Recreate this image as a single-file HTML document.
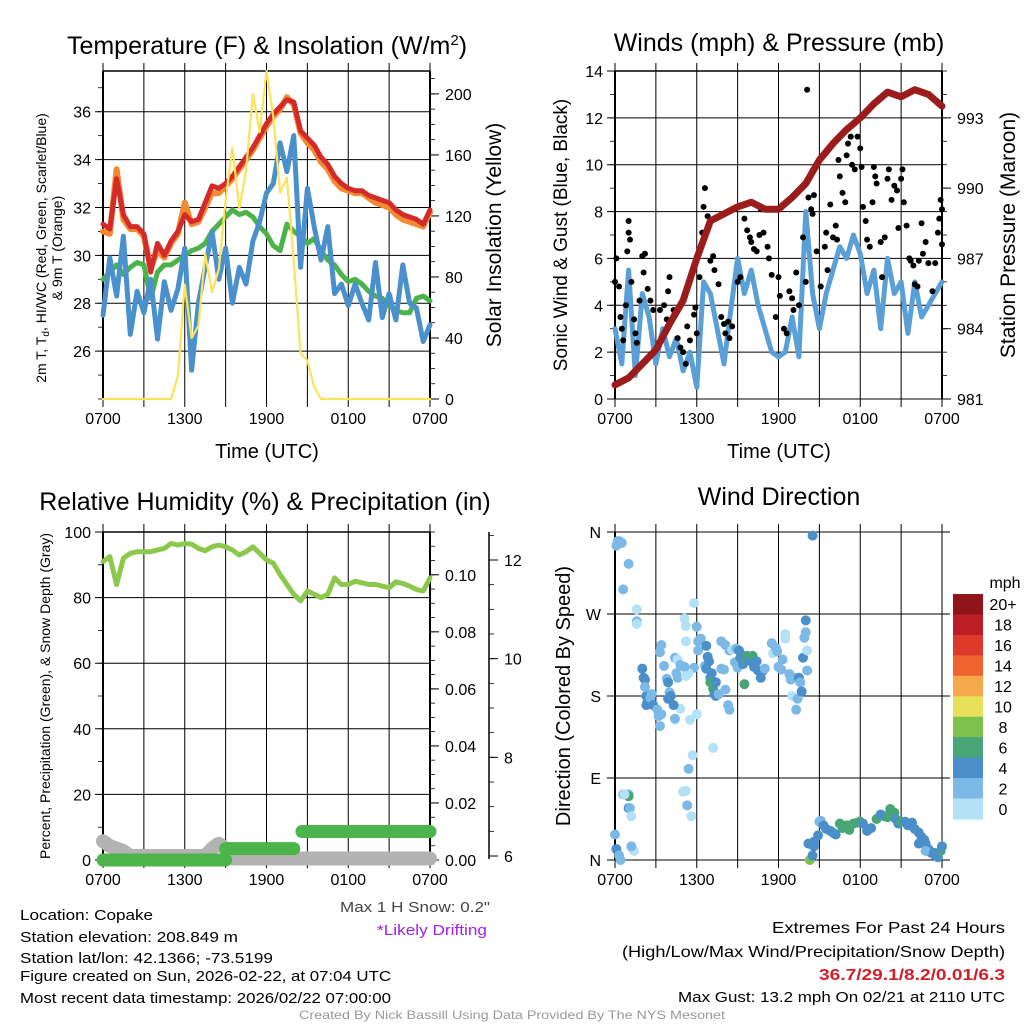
<!DOCTYPE html>
<html><head><meta charset="utf-8"><style>
html,body{margin:0;padding:0;background:#fff;}
svg{display:block;font-family:"Liberation Sans",sans-serif;}
</style></head><body>
<svg id="chart" width="1024" height="1024" viewBox="0 0 1024 1024" xmlns="http://www.w3.org/2000/svg">
<rect x="0" y="0" width="1024" height="1024" fill="#fff"/>
<text x="267" y="54" font-size="25" text-anchor="middle">Temperature (F) &amp; Insolation (W/m<tspan dy="-9" font-size="15">2</tspan><tspan dy="9">)</tspan></text>
<text x="779" y="51" font-size="25" text-anchor="middle">Winds (mph) &amp; Pressure (mb)</text>
<text x="265" y="510" font-size="25" text-anchor="middle">Relative Humidity (%) &amp; Precipitation (in)</text>
<text x="779" y="505" font-size="25" text-anchor="middle">Wind Direction</text>
<text x="267" y="458" font-size="20" text-anchor="middle">Time (UTC)</text>
<text x="779" y="458" font-size="20" text-anchor="middle">Time (UTC)</text>
<text transform="translate(46,248) rotate(-90)" font-size="14" text-anchor="middle"><tspan x="0" y="0">2m T, T<tspan font-size="10" dy="3">d</tspan><tspan dy="-3">, HI/WC (Red, Green, Scarlet/Blue)</tspan></tspan><tspan x="0" y="16">&amp; 9m T (Orange)</tspan></text>
<text transform="translate(501,235) rotate(-90)" font-size="21" text-anchor="middle">Solar Insolation (Yellow)</text>
<text transform="translate(567,235) rotate(-90)" font-size="19" text-anchor="middle">Sonic Wind &amp; Gust (Blue, Black)</text>
<text transform="translate(1015,235) rotate(-90)" font-size="21" text-anchor="middle">Station Pressure (Maroon)</text>
<text transform="translate(50,696) rotate(-90)" font-size="14" text-anchor="middle">Percent, Precipitation (Green), &amp; Snow Depth (Gray)</text>
<text transform="translate(570,696) rotate(-90)" font-size="20" text-anchor="middle">Direction (Colored By Speed)</text>
<text x="415" y="912" font-size="15" fill="#444" text-anchor="middle" textLength="150" lengthAdjust="spacingAndGlyphs">Max 1 H Snow: 0.2"</text>
<text x="432" y="935" font-size="15" fill="#a020f0" text-anchor="middle" textLength="110" lengthAdjust="spacingAndGlyphs">*Likely Drifting</text>
<g font-size="15">
<text x="20" y="920" textLength="133" lengthAdjust="spacingAndGlyphs">Location: Copake</text>
<text x="20" y="942" textLength="218" lengthAdjust="spacingAndGlyphs">Station elevation: 208.849 m</text>
<text x="20" y="963" textLength="253" lengthAdjust="spacingAndGlyphs">Station lat/lon: 42.1366; -73.5199</text>
<text x="20" y="981" textLength="371" lengthAdjust="spacingAndGlyphs">Figure created on Sun, 2026-02-22, at 07:04 UTC</text>
<text x="20" y="1003" textLength="371" lengthAdjust="spacingAndGlyphs">Most recent data timestamp: 2026/02/22 07:00:00</text>
</g>
<g font-size="16" text-anchor="end">
<text x="1005" y="933" textLength="233" lengthAdjust="spacingAndGlyphs">Extremes For Past 24 Hours</text>
<text x="1005" y="957" textLength="383" lengthAdjust="spacingAndGlyphs">(High/Low/Max Wind/Precipitation/Snow Depth)</text>
<text x="1005" y="980" fill="#d0202a" font-weight="bold" textLength="186" lengthAdjust="spacingAndGlyphs">36.7/29.1/8.2/0.01/6.3</text>
<text x="1005" y="1002" font-size="15" textLength="327" lengthAdjust="spacingAndGlyphs">Max Gust: 13.2 mph On 02/21 at 2110 UTC</text>
</g>
<text x="512" y="1019" font-size="12" fill="#999" text-anchor="middle" textLength="426" lengthAdjust="spacingAndGlyphs">Created By Nick Bassill Using Data Provided By The NYS Mesonet</text>
</svg>
<script>
// ---- data (half-hourly from 0700 UTC) ----
const timeLabels = ["0700","1300","1900","0100","0700"];
const temp2m = [31.3,31.1,33.2,31.7,31.2,31.2,30.9,29.3,30.5,30.0,30.6,31.0,31.7,31.4,31.5,32.2,32.9,32.8,33.0,33.3,33.7,34.1,34.5,35.0,35.5,35.9,36.2,36.5,36.4,35.2,34.9,34.6,34.1,33.8,33.3,33.0,32.8,32.7,32.7,32.5,32.4,32.3,32.2,31.9,31.7,31.6,31.5,31.3,31.9];
const temp9m = [31.0,30.9,33.6,31.5,31.1,31.1,30.8,29.5,30.2,29.9,30.5,30.9,32.2,31.3,31.4,32.0,32.6,32.6,32.9,33.2,33.6,34.0,34.4,34.9,35.4,35.8,36.1,36.6,36.3,35.1,34.7,34.4,33.9,33.6,33.1,32.8,32.7,32.6,32.6,32.4,32.2,32.1,32.0,31.7,31.5,31.4,31.3,31.2,31.8];
const dewpoint = [29.0,29.3,29.6,29.2,29.5,29.7,29.6,28.2,29.3,29.6,29.6,29.8,30.0,30.2,30.3,30.5,31.0,31.3,31.6,31.9,31.7,31.8,31.6,31.2,30.9,30.4,30.2,31.3,31.0,30.8,30.5,30.7,30.2,29.8,29.6,29.2,28.9,29.0,28.8,28.5,28.3,28.2,27.9,27.7,27.6,27.6,28.2,28.3,28.1];
const windChill = [27.5,29.9,28.3,30.8,26.7,28.5,27.6,29.0,26.5,28.9,27.7,28.6,30.3,25.2,28.0,29.5,31.0,29.0,30.3,28.0,29.5,28.8,30.6,31.4,32.6,33.0,34.7,33.5,35.0,29.5,32.8,31.2,29.8,31.2,28.4,28.8,27.9,28.8,28.0,27.3,29.7,27.4,28.4,27.3,29.6,28.0,27.8,26.4,27.1];
const solar = [0,0,0,0,0,0,0,0,0,0,0,15,75,40,48,95,70,85,130,165,125,150,200,175,215,185,135,145,90,30,25,8,0,0,0,0,0,0,0,0,0,0,0,0,0,0,0,0,0];
const pressure = [981.6,981.9,982.5,983.1,984.2,985.2,987.0,988.6,988.9,989.2,989.4,989.1,989.1,989.6,990.2,991.2,991.9,992.5,993.0,993.6,994.1,993.9,994.2,994.0,993.5]; // hourly
const sonicWind = [3.0,1.5,5.5,1.0,4.5,3.5,1.5,3.0,1.8,2.6,1.2,2.0,0.5,5.0,4.5,3.0,1.5,3.8,6.0,4.5,5.5,4.0,3.0,2.0,1.8,2.0,3.5,1.8,8.0,4.5,3.0,4.5,5.5,6.5,6.0,7.0,6.2,4.5,5.5,3.0,6.0,4.5,5.0,2.8,5.0,3.5,4.0,4.5,5.0];
const gustTimes = [0,0.1,0.3,0.4,0.5,0.6,0.8,0.9,1.0,1.0,1.1,1.2,1.4,1.5,1.6,1.8,2.0,2.1,2.2,2.4,2.6,2.8,3.3,3.6,3.8,3.9,4.0,4.3,4.6,4.8,5.0,5.2,5.3,5.5,5.8,5.9,6.0,6.2,6.4,6.5,6.6,6.8,7.0,7.2,7.3,7.6,7.8,8.0,8.1,8.3,8.4,8.6,9.0,9.2,9.5,9.7,9.9,10.0,10.2,10.4,10.6,10.7,10.9,11.2,11.3,11.5,11.8,12.0,12.1,12.4,12.6,12.8,13.0,13.1,13.3,13.5,13.8,14.0,14.1,14.2,14.4,14.5,14.6,14.8,15.1,15.4,15.5,15.6,15.8,16.0,16.2,16.3,16.4,16.5,16.7,16.9,17.0,17.1,17.3,17.4,17.6,17.8,18.0,18.1,18.2,18.4,18.5,18.7,18.9,19.0,19.1,19.2,19.5,19.6,19.8,20.0,20.1,20.3,20.5,20.7,20.8,21.0,21.1,21.2,21.4,21.6,21.7,21.9,22.0,22.2,22.3,22.5,22.6,22.8,23.0,23.3,23.5,23.7,23.8,23.9,24,24];
const gustValues = [5,6,4.8,3.5,3,2.5,4,6.3,7.1,7.6,6.8,5,3.4,2.8,2.4,4.2,6.1,5.4,6.2,4.7,4.2,3.8,3.8,4.0,3.4,4.6,5.2,3.8,2.6,2.2,2.0,1.5,3.1,2.5,3.6,3.9,2.8,5.2,7.1,8.2,9.0,7.8,5.9,6.1,5.5,4.9,3.5,3.2,2.8,3.3,2.6,3.1,5.0,5.2,7.7,7.2,6.9,6.7,6.4,6.3,7.0,8.1,7.1,6.5,6.0,5.3,3.5,5.2,4.4,3.0,2.8,4.6,4.3,3.8,5.4,4.0,6.9,5.0,13.2,8.6,8.1,7.9,8.7,6.3,4.8,6.5,7.1,5.5,8.3,6.9,7.4,6.8,10.2,9.5,8.8,8.4,10.4,10.9,11.2,10.0,9.8,11.2,10.7,9.9,8.2,7.6,6.8,6.5,8.4,9.9,9.5,9.2,6.7,5.2,6.9,9.4,9.8,8.5,9.1,8.9,7.3,9.4,9.8,8.4,7.4,6.0,5.9,5.7,4.9,4.8,5.9,7.5,6.2,6.7,5.8,4.6,5.8,7.1,7.7,8.5,8.1,6.6];
const humidity = [91,92.5,84,92,93.5,94,94,94,94.5,95,96.5,96,96.5,96.3,95,94.3,95.5,96,95.5,94.5,93,94,95.5,93.5,91.5,90.5,87,84,81,79,82,81,80,81,86,84,84,85,84.5,84,84,83.5,83,84.8,84.3,83.5,82.5,82,86];
const precipStart = [0,9.0,14.6];
const precipEnd = [9.0,14.0,24];
const precipValues = [0,0.004,0.01];
const snowDepth = [6.3,6.2,6.15,6.1,6.0,6.0,6.0,6.0,6.0,6.0,6.0,6.0,6.0,6.0,6.0,6.0,6.15,6.25,6.15,5.95,5.95,5.95,5.95,5.95,5.95,5.95,5.95,5.95,5.95,5.95,5.95,5.95,5.95,5.95,5.95,5.95,5.95,5.95,5.95,5.95,5.95,5.95,5.95,5.95,5.95,5.95,5.95,5.95,5.95];
const dirTimes = [0.2,0.3,0.1,0.5,1.0,0.6,1.6,1.6,1.6,5.1,5.2,5.8,5.2,5.8,5.4,6.1,6.0,4.8,5.5,7.2,5.7,5.4,5.3,5.2,5.0,5.6,1.0,1.0,1.0,1.1,0.6,0.7,1.2,1.4,1.2,0.0,0.1,0.3,0.4,
 2.0,2.1,2.2,2.3,2.2,2.3,2.4,2.6,2.7,2.8,3.1,3.2,3.3,3.4,3.3,3.4,3.6,3.8,3.9,4.0,3.9,4.1,4.4,4.5,4.6,4.3,4.4,4.6,4.8,5.1,5.2,6.0,6.3,6.1,6.7,6.8,6.6,6.7,6.9,7.0,7.1,7.0,7.2,7.3,7.4,7.6,7.4,7.8,7.8,8.0,8.1,8.3,8.4,8.1,8.4,8.6,8.8,8.9,9.0,9.1,9.2,9.3,9.4,9.5,9.6,9.7,9.8,10.0,10.1,10.2,10.4,10.5,10.7,10.8,11.0,11.5,11.6,11.8,11.9,12.0,12.2,12.3,12.5,12.5,12.8,12.9,13.0,13.1,13.4,13.3,13.5,13.6,13.7,13.8,13.9,14.0,14.1,14.1,14.0,14.5,
 14.3,14.5,14.6,14.2,14.6,14.9,15.0,15.1,15.3,15.5,15.8,16.0,16.2,16.5,16.7,17.0,17.2,17.5,17.8,18.0,18.2,18.5,18.8,19.2,19.5,19.8,20.0,20.2,20.5,20.6,20.8,21.0,21.3,21.5,21.8,22.0,22.3,22.5,22.7,22.8,23.0,23.2,23.5,23.7,23.9,24,22.8,23.4,22.3];
const dirDegrees = [350,350,345,348,325,297,275,262,259,265,257,282,240,211,205,230,160,166,154,123,115,100,60,76,75,48,72,70,57,57,72,72,48,10,15,28,12,5,0,
 210,200,198,180,190,170,175,178,182,170,165,158,147,160,228,236,213,199,195,184,177,180,222,205,200,170,155,220,214,212,202,256,243,240,235,223,213,210,218,200,205,195,188,182,180,182,195,240,210,209,187,170,165,236,230,231,217,232,211,230,222,225,215,193,220,224,219,223,224,212,218,208,200,207,210,238,227,233,229,212,209,220,248,243,204,198,180,200,177,165,200,195,185,222,244,250,230,208,263,356,
 0,5,15,18,20,27,42,43,38,34,32,30,28,40,35,38,33,40,41,42,40,32,35,45,50,48,47,56,52,45,40,42,42,38,41,34,30,25,22,18,12,8,5,3,10,15,10,8,18];
const dirSpeeds = [2,2,2,2,2,2,0,2,0,0,0,0,0,2,0,2,0,0,0,0,0,2,2,0,0,0,2,6,4,2,2,0,0,0,2,2,4,2,2,
 4,4,4,4,2,4,4,2,2,4,2,2,2,2,2,2,2,2,4,2,4,4,2,2,2,4,2,0,2,2,0,2,2,2,4,4,2,4,4,4,4,6,6,4,4,2,4,2,2,2,2,2,2,2,2,0,2,2,2,4,4,4,4,6,6,6,4,4,6,4,4,4,4,4,2,2,0,2,2,2,2,2,0,0,2,2,0,2,2,2,4,2,4,4,2,2,0,2,4,4,
 8,4,4,4,4,4,2,2,4,4,4,4,4,6,6,6,6,6,6,6,4,4,4,6,4,4,6,6,6,4,4,6,4,4,4,4,4,4,4,4,4,4,4,4,6,4,2,4,4];
const speedLevels = ["0","2","4","6","8","10","12","14","16","18","20+"];
const speedColors = ["#b3e2f7","#7db9e6","#4a8fc9","#48a676","#7cc14b","#e6e05a","#f6a84a","#ef632e","#dd3a2b","#bb1e27","#8f1519"];
const tempTicks = [26,28,30,32,34,36];
const solarTicks = [0,40,80,120,160,200];
const windTicks = [0,2,4,6,8,10,12,14];
const pressureTicks = [981,984,987,990,993];
const rhTicks = [0,20,40,60,80,100];
const precipTicks = ["0.00","0.02","0.04","0.06","0.08","0.10"];
const snowTicks = [6,8,10,12];
const dirTicks = ["N","E","S","W","N"];

const NS='http://www.w3.org/2000/svg';
const svg=document.getElementById('chart');
function mk(tag,attrs,parent){const e=document.createElementNS(NS,tag);for(const k in attrs)e.setAttribute(k,attrs[k]);(parent||svg).appendChild(e);return e;}
function tx(t,p){return p.x0+t*(p.x1-p.x0)/24;}
function linear(d0,d1,r0,r1){return v=>r0+(v-d0)*(r1-r0)/(d1-d0);}
function pathOf(xs,ys){return xs.map((x,i)=>(i?'L':'M')+x.toFixed(1)+','+ys[i].toFixed(1)).join('');}

const TL={x0:103,x1:430,y0:71,y1:399,name:'temperature'};
const TR={x0:615,x1:942,y0:71,y1:399,name:'wind'};
const BL={x0:103,x1:430,y0:532,y1:860,name:'humidity'};
const BR={x0:615,x1:942,y0:532,y1:860,name:'direction'};

const yTemp=linear(24,37.7,399,71);
const ySolar=linear(0,215,399,71);
const yWind=linear(0,14,399,71);
const yPres=linear(981,995,399,71);
const yRH=linear(0,100,860,532);
const yPrecip=linear(0,0.115,860,532);
const ySnow=linear(6,12,856,560);
const yDir=linear(0,360,860,532);

function frame(p){
  const g=mk('g',{});
  
  
  for(let h=0;h<=24;h+=3){
    const x=tx(h,p);
    const l=mk('line',{x1:x,x2:x,y1:p.y0-8,y2:p.y1+8,stroke:'#000','stroke-width':1},g);
    
    
  }
  timeLabels.forEach((s,i)=>{
    const t=mk('text',{x:tx(i*6,p),y:p.y1+25,'font-size':16,'text-anchor':'middle'},g);
    t.textContent=s;
    
    
  });
  const r=mk('line',{x1:p.x0,x2:p.x0,y1:p.y0,y2:p.y1,stroke:'#000','stroke-width':2},g);
  
  
  const r2=mk('line',{x1:p.x1,x2:p.x1,y1:p.y0,y2:p.y1,stroke:'#000','stroke-width':2},g);
  
  
  const r3=mk('line',{x1:p.x0,x2:p.x1,y1:p.y0,y2:p.y0,stroke:'#000','stroke-width':1.5},g);
  
  
  return g;
}
function leftTicks(p,vals,yf,labels,minorStep,minorFrom,minorTo,fs){
  const g=mk('g',{});
  
  
  for(let v=minorFrom;v<=minorTo+1e-9;v+=minorStep){
    const y=yf(v); if(y<p.y0-1||y>p.y1+1)continue;
    const m=mk('line',{x1:p.x0-5,x2:p.x0,y1:y,y2:y,stroke:'#000','stroke-width':0.8},g);
    
    
  }
  vals.forEach((v,i)=>{
    const y=yf(v);
    const l=mk('line',{x1:p.x0-8,x2:p.x1,y1:y,y2:y,stroke:'#000','stroke-width':1},g);
    
    
    const t=mk('text',{x:p.x0-12,y:y+6,'font-size':fs||16,'text-anchor':'end'},g);
    t.textContent=labels?labels[i]:v;
    
    
  });
}
function rightTicks(p,vals,yf,labels,minorStep,minorFrom,minorTo,xAxis){
  const ax=xAxis||p.x1;
  const g=mk('g',{});
  
  
  for(let v=minorFrom;v<=minorTo+1e-9;v+=minorStep){
    const y=yf(v); if(y<p.y0-1||y>p.y1+1)continue;
    const m=mk('line',{x1:ax,x2:ax+5,y1:y,y2:y,stroke:'#000','stroke-width':0.8},g);
    
    
  }
  vals.forEach((v,i)=>{
    const y=yf(v);
    const l=mk('line',{x1:ax,x2:ax+9,y1:y,y2:y,stroke:'#000','stroke-width':1},g);
    
    
    const t=mk('text',{x:ax+15,y:y+6,'font-size':16},g);
    t.textContent=labels?labels[i]:v;
    
    
  });
}
function series(vals,yf,p,step,color,w,name){
  const xs=vals.map((v,i)=>tx(i*step,p));
  const ys=vals.map(v=>yf(v));
  const e=mk('path',{d:pathOf(xs,ys),fill:'none',stroke:color,'stroke-width':w,'stroke-linejoin':'round','stroke-linecap':'round'});
  
  
  return e;
}

// ---- Temperature panel ----
frame(TL);
leftTicks(TL,tempTicks,yTemp,null,1,24,37);
rightTicks(TL,solarTicks,ySolar,null,10,0,210);
series(temp9m,yTemp,TL,0.5,'#f28a30',6,'temp-9m-line');
series(temp2m,yTemp,TL,0.5,'#d42a2a',5,'temp-2m-line');
series(dewpoint,yTemp,TL,0.5,'#4cb34a',5,'dewpoint-line');
series(windChill,yTemp,TL,0.5,'#4a90cc',5,'windchill-line');
series(solar,ySolar,TL,0.5,'#fce35a',2.2,'solar-line');

// ---- Wind panel ----
frame(TR);
leftTicks(TR,windTicks,yWind,null,1,0,14);
rightTicks(TR,pressureTicks,yPres,null,1,981,995);
series(sonicWind,yWind,TR,0.5,'#5a9fd6',5,'sonic-wind-line');
gustTimes.forEach((t,i)=>{
  const c=mk('circle',{cx:tx(t,TR),cy:yWind(gustValues[i]),r:3,fill:'#000'});
  
  
});
series(pressure,yPres,TR,1,'#9b1c1c',7,'pressure-line');

// ---- Humidity panel ----
frame(BL);
leftTicks(BL,rhTicks,yRH,null,10,0,100);
rightTicks(BL,precipTicks.map(Number),yPrecip,precipTicks,0.005,0,0.115);
{
  const ax=mk('line',{x1:489,x2:489,y1:532,y2:859,stroke:'#000','stroke-width':1.5});
  
  
  const p3={x0:0,x1:0,y0:532,y1:860,name:'snow'};
  rightTicks(p3,snowTicks,ySnow,null,0.5,6,12.5,489);
}
series(snowDepth,ySnow,BL,0.5,'#b3b3b3',14,'snow-depth-line');
precipValues.forEach((v,i)=>{
  const l=mk('line',{x1:tx(precipStart[i],BL),x2:tx(precipEnd[i],BL),y1:yPrecip(v),y2:yPrecip(v),stroke:'#4bb54b','stroke-width':13,'stroke-linecap':'round'});
  
  
});
series(humidity,yRH,BL,0.5,'#8cc84b',5,'humidity-line');

// ---- Wind direction panel ----
{
  const g=mk('g',{});
  
  
  for(let h=0;h<=24;h+=3){
    const x=tx(h,BR);
    const l=mk('line',{x1:x,x2:x,y1:BR.y0-8,y2:BR.y1+8,stroke:'#000','stroke-width':1},g);
    
    
  }
  timeLabels.forEach((s,i)=>{
    const t=mk('text',{x:tx(i*6,BR),y:BR.y1+25,'font-size':16,'text-anchor':'middle'},g);
    t.textContent=s;
    
    
  });
  dirTicks.forEach((s,i)=>{
    const y=yDir(i*90);
    const l=mk('line',{x1:BR.x0-8,x2:BR.x1+8,y1:y,y2:y,stroke:'#000','stroke-width':1},g);
    
    
    const t=mk('text',{x:BR.x0-14,y:y+6,'font-size':16,'text-anchor':'end'},g);
    t.textContent=s;
    
    
  });
  const la=mk('line',{x1:BR.x0,x2:BR.x0,y1:BR.y0,y2:BR.y1,stroke:'#000','stroke-width':2},g);
  
  
}
dirTimes.forEach((t,i)=>{
  const c=mk('circle',{cx:tx(t,BR),cy:yDir(dirDegrees[i]),r:5,fill:speedColors[Math.min(10,Math.round(dirSpeeds[i]/2))]});
  
  
});
// colorbar
{
  const g=mk('g',{});
  
  
  const lbl=mk('text',{x:1005,y:588,'font-size':16,'text-anchor':'middle'},g);
  lbl.textContent='mph';
  
  
  const top=594,bh=(819-594)/speedLevels.length;
  speedLevels.forEach((s,i)=>{
    const k=speedLevels.length-1-i;
    const r=mk('rect',{x:953,y:top+i*bh,width:30,height:bh+0.5,fill:speedColors[k]},g);
    
    
    const t=mk('text',{x:1003,y:top+i*bh+bh/2+6,'font-size':16,'text-anchor':'middle'},g);
    t.textContent=speedLevels[k];
    
    
  });
}
</script>
</body></html>
